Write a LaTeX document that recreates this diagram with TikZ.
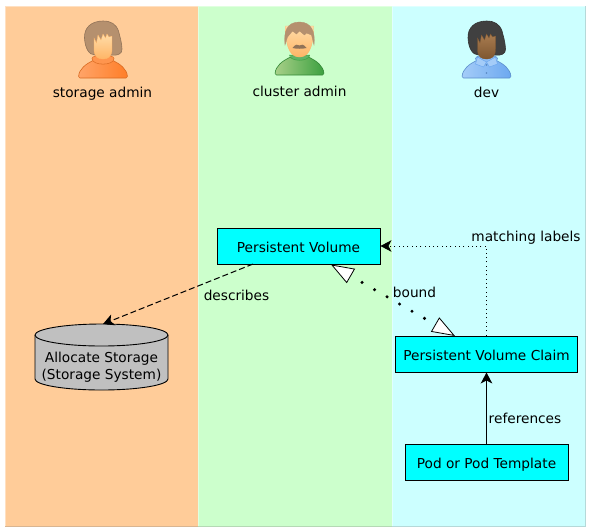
\documentclass[tikz,border=0pt]{standalone}
\usepackage{fontspec}
\setmainfont{DejaVu Sans}
\usetikzlibrary{arrows.meta}
\definecolor{storagebg}{HTML}{FFCC99}
\definecolor{clusterbg}{HTML}{CCFFCC}
\definecolor{devbg}{HTML}{CCFFFF}
\definecolor{boxcyan}{HTML}{00FFFF}
\definecolor{diskgray}{HTML}{C0C0C0}
\definecolor{brownhair}{HTML}{B5906E}
\definecolor{darkhair}{HTML}{404040}
\definecolor{paleskin}{HTML}{FFDCA8}
\definecolor{warmskin}{HTML}{FFB566}
\definecolor{tanskin}{HTML}{A87C50}
\definecolor{deepskin}{HTML}{7E5630}
\definecolor{orangelight}{HTML}{FFA468}
\definecolor{orangedark}{HTML}{FF7E28}
\definecolor{greenlight}{HTML}{A8D088}
\definecolor{greendark}{HTML}{3CA040}
\definecolor{bluelight}{HTML}{A4CCF8}
\definecolor{bluedark}{HTML}{6CA8F0}
% one lane: left, right, colour (light on top and left, dark on bottom and right)
\newcommand{\lanebox}[3]{%
  \fill[#3] (#1,6) rectangle (#2,526);
  \draw[#3!60!white,line width=1pt] (#1,526) -- (#1,6) -- (#2,6);
  \draw[#3!70!gray,line width=1pt] (#1,526) -- (#2,526) -- (#2,6);}
% shoulders of a person, local coordinates
\newcommand{\personbody}[2]{%
  \draw[#2!85!black,line width=.6pt,left color=#1,right color=#2,rounded corners=1.5pt]
    (-24.5,57) .. controls (-24,48) and (-17,43) .. (-9,39) -- (9,39)
    .. controls (17,43) and (24,48) .. (24.5,57) -- cycle;}
% long hair and a face with a fringe
\newcommand{\bobperson}[6]{%
  \begin{scope}[shift={(#1,21)}]
    \draw[#2!80!black,line width=.6pt,fill=#2]
      (0,0) .. controls (-12,0) and (-19,7) .. (-18.5,17)
      .. controls (-18,27) and (-14,34) .. (-8,34) -- (8,34)
      .. controls (14,35) and (19.5,33) .. (19,28)
      .. controls (18.5,20) and (17,16) .. (15.5,10) .. controls (13,3) and (8,0) .. (0,0) -- cycle;
    \personbody{#5}{#6}
    \draw[#6!85!black,line width=.5pt,fill=#5!60!#6] (-11,37.5) .. controls (-11,45) and (11,45) .. (11,37.5) .. controls (11,33) and (-11,33) .. (-11,37.5) -- cycle;
    \draw[#4,line width=.3pt,top color=#3,bottom color=#4]
      (-9,17) -- (-6.5,22) -- (-5,14) -- (-2,19) -- (0,13) -- (2.5,17) -- (4,13) -- (6,16) -- (9,15)
      -- (9,28) .. controls (9,36) and (5,38) .. (0,38) .. controls (-5,38) and (-9,36) .. (-9,28) -- cycle;
  \end{scope}}
\begin{document}
\begin{tikzpicture}[x=1pt,y=-1pt,
    main/.style = {draw,line width=0.9pt,fill=boxcyan,minimum height=36pt,inner sep=0pt,text height=12pt,text depth=0pt,font=\fontsize{13.7}{16}\selectfont},
    tag/.style = {font=\fontsize{13.7}{16}\selectfont,inner sep=0pt,anchor=base},
    arrowtip/.style = {-{Stealth[length=11pt,width=11.5pt,inset=3pt]}}]
  \useasboundingbox (0,0) rectangle (593,531);
  \lanebox{5}{198}{storagebg}
  \lanebox{198}{392}{clusterbg}
  \lanebox{392}{585}{devbg}
  % persons
  \bobperson{103}{brownhair}{paleskin}{warmskin}{orangelight}{orangedark}
  \begin{scope}[shift={(299.5,18)}]
    \personbody{greenlight}{greendark}
    \draw[greendark,line width=.5pt,fill=greendark!80!white] (-10,37) .. controls (-10,44) and (10,44) .. (10,37) -- cycle;
    \draw[warmskin,line width=.3pt,top color=paleskin,bottom color=warmskin]
      (-14,8) .. controls (-14,34) and (-7,39) .. (0,39) .. controls (7,39) and (14,34) .. (14,8) -- cycle;
    \draw[brownhair,line width=.3pt,fill=brownhair]
      (-14.5,27) .. controls (-16,14) and (-13,4) .. (0,4) .. controls (12,4) and (16,14) .. (14.5,27)
      -- (12,17) -- (7,15) -- (5,17) -- (0,13) -- (-3,16) -- (-7,13) -- (-12,19) -- cycle;
    \fill[brownhair!80!black] (-7,30) .. controls (-4,26) and (-2,26) .. (0,27.5) .. controls (2,26) and (4,26) .. (7,30) .. controls (3,31) and (-3,31) .. (-7,30) -- cycle;
  \end{scope}
  \bobperson{486.5}{darkhair}{tanskin}{deepskin}{bluelight}{bluedark}
  % collar and buttons of dev
  \begin{scope}[shift={(486.5,21)}]
    \draw[bluedark,line width=.5pt,fill=bluelight] (-9,36) -- (-11,43) -- (-3,46) -- (0,41) -- cycle;
    \draw[bluedark,line width=.5pt,fill=bluelight] (9,36) -- (11,43) -- (3,46) -- (0,41) -- cycle;
    \fill[bluedark!80!black] (0,44) circle (.8pt) (0,52) circle (.8pt);
  \end{scope}
  % labels of the lanes
  \node[tag] (storage) at (102.5,97.5) {storage admin};
  \node[tag] (cluster) at (299.5,96.5) {cluster admin};
  \node[tag] (dev) at (486.5,97.5) {dev};
  % objects
  \node[main,minimum width=163pt] (pv) at (298.5,246) {Persistent Volume};
  \node[main,minimum width=182pt] (pvc) at (486.5,354) {Persistent Volume Claim};
  \node[main,minimum width=163pt] (pod) at (486.5,462) {Pod or Pod Template};
  % storage drum
  \draw[line width=0.9pt,fill=diskgray] (35,335) .. controls (35,329) and (64.8,324) .. (101.5,324)
    .. controls (138.2,324) and (168,329) .. (168,335) -- (168,379)
    .. controls (168,385) and (138.2,390) .. (101.5,390) .. controls (64.8,390) and (35,385) .. (35,379) -- cycle;
  \draw[line width=0.9pt] (35,335) .. controls (35,341) and (64.8,346) .. (101.5,346)
    .. controls (138.2,346) and (168,341) .. (168,335);
  \node[inner sep=0pt,align=center,font=\fontsize{13.7}{17.5}\selectfont] (disk) at (101.5,367) {Allocate Storage\\(Storage System)};
  % connectors
  \coordinate (disktop) at (103,324);
  \coordinate (pvfoot) at (253,264);
  \coordinate (boundpv) at (331,264.5);
  \coordinate (boundpvc) at (455,336);
  \draw[arrowtip,dash pattern=on 6pt off 3pt,line width=1pt] (pvfoot) -- (disktop);
  \draw[arrowtip,line width=1pt] (pod) -- (pvc);
  \draw[arrowtip,line width=.9pt,dash pattern=on 1pt off 3.3pt] (pvc.north) |- (pv.east);
  \draw[{Triangle[length=23pt,width=16.5pt,fill=white,line width=.8pt]}-{Triangle[length=23pt,width=16.5pt,fill=white,line width=.8pt]},
        line width=3.4pt,line cap=round,dash pattern=on 0pt off 14.4pt,dash phase=1.3pt] (boundpv) -- (boundpvc);
  \node[tag] (describes) at (236.5,300) {describes};
  \node[tag] (bound) at (414.5,297) {bound};
  \node[tag] (matching) at (526,241) {matching labels};
  \node[tag] (references) at (525,423) {references};
\end{tikzpicture}
\end{document}
